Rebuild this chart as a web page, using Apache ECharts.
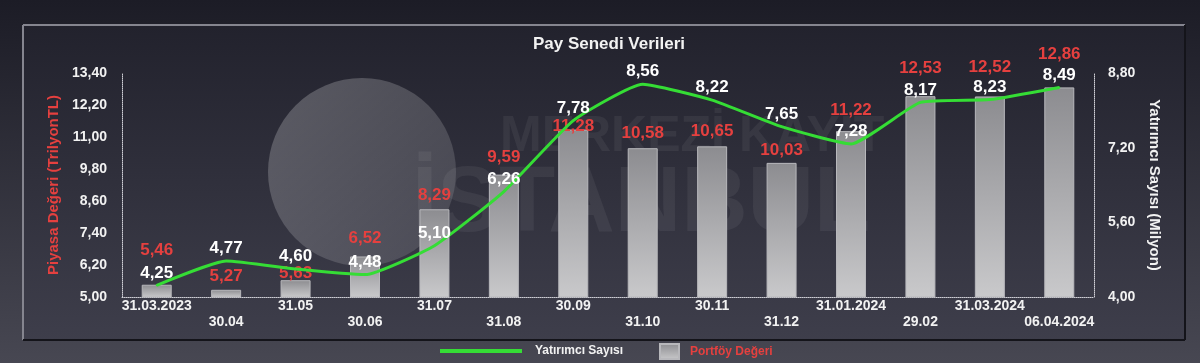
<!DOCTYPE html>
<html>
<head>
<meta charset="utf-8">
<script src="https://cdn.jsdelivr.net/npm/echarts@6/dist/echarts.min.js"></script>
<style>
html,body{margin:0;padding:0;background:#2a2a35;}
#chart{width:1200px;height:363px;}
</style>
</head>
<body>
<div id="chart"></div>
<script>
// ---- data ----
const categories = ['31.03.2023','30.04','31.05','30.06','31.07','31.08','30.09','31.10','30.11','31.12','31.01.2024','29.02','31.03.2024','06.04.2024'];
const portfoyDegeri = [5.46, 5.27, 5.63, 6.52, 8.29, 9.59, 11.28, 10.58, 10.65, 10.03, 11.22, 12.53, 12.52, 12.86];
const yatirimciSayisi = [4.25, 4.77, 4.60, 4.48, 5.10, 6.26, 7.78, 8.56, 8.22, 7.65, 7.28, 8.17, 8.23, 8.49];
const leftTicks = { min: 5.0, max: 13.4, step: 1.2 };
const rightTicks = { min: 4.0, max: 8.8, step: 1.6 };
const titleText = 'Pay Senedi Verileri';
const leftAxisName = 'Piyasa Değeri (TrilyonTL)';
const rightAxisName = 'Yatırımcı Sayısı (Milyon)';
const lineName = 'Yatırımcı Sayısı';
const barName = 'Portföy Değeri';

// label vertical shifts (style only)
const redLabelShift = [-21, 0, 7, -4.5, 0, -3.5, 10, -1, -1.5, 0.5, -7, -14, -16, -20];

const RED = '#e5403f';
const GREEN = '#35dd35';
const fmt = v => Number(v).toFixed(2).replace('.', ',');
const FONT = '"Liberation Sans", Arial, sans-serif';

const chart = echarts.init(document.getElementById('chart'), null, { renderer: 'canvas' });

const option = {
  backgroundColor: {
    type: 'linear', x: 0, y: 0, x2: 0, y2: 1,
    colorStops: [{ offset: 0, color: '#1c1c26' }, { offset: 1, color: '#474752' }]
  },
  textStyle: { fontFamily: FONT },
  graphic: [
    { type: 'rect', z: -10, silent: true, shape: { x: 23, y: 25, width: 1162, height: 315 },
      style: { fill: { type: 'linear', x: 0, y: 0, x2: 0, y2: 1,
        colorStops: [{ offset: 0, color: '#22222d' }, { offset: 1, color: '#3e3e4b' }] } } },
    { type: 'line', z: -9, silent: true, shape: { x1: 23, y1: 25, x2: 1185, y2: 25 }, style: { stroke: '#85858f', lineWidth: 2 } },
    { type: 'line', z: -9, silent: true, shape: { x1: 23, y1: 25, x2: 23, y2: 340 }, style: { stroke: '#85858f', lineWidth: 2 } },
    { type: 'line', z: -9, silent: true, shape: { x1: 23, y1: 340, x2: 1185, y2: 340 }, style: { stroke: '#14141a', lineWidth: 2 } },
    { type: 'line', z: -9, silent: true, shape: { x1: 1185, y1: 25, x2: 1185, y2: 340 }, style: { stroke: '#14141a', lineWidth: 2 } },
    { type: 'circle', z: -8, silent: true, shape: { cx: 362, cy: 172, r: 94 },
      style: { fill: { type: 'linear', x: 0, y: 0, x2: 1, y2: 1,
        colorStops: [{ offset: 0, color: 'rgba(255,255,255,0.24)' }, { offset: 1, color: 'rgba(255,255,255,0.10)' }] } } },
    { type: 'text', z: -8, silent: true, left: 500, top: 112,
      style: { text: 'MERKEZİ KAYIT', font: 'bold 50px ' + FONT, fill: 'rgba(255,255,255,0.06)' } },
    { type: 'text', z: -8, silent: true, left: 412, top: 160,
      style: { text: 'İSTANBUL', font: 'bold 92px ' + FONT, fill: 'rgba(255,255,255,0.06)' } }
  ],
  title: {
    text: titleText, left: 604, textAlign: 'center', top: 31,
    textStyle: { color: '#f2f2f2', fontSize: 17, fontWeight: 'bold', fontFamily: FONT }
  },
  legend: [
    { data: [{ name: lineName, icon: 'rect', itemStyle: { color: GREEN, opacity: 1 } }], left: 435, top: 340, itemWidth: 82, itemHeight: 4,
      textStyle: { color: '#f2f2f2', fontSize: 12, fontWeight: 'bold', fontFamily: FONT, padding: [0, 0, 0, 8] } },
    { data: [{ name: barName, icon: 'rect' }], left: 654, top: 338, itemWidth: 19, itemHeight: 15,
      textStyle: { color: RED, fontSize: 12, fontWeight: 'bold', fontFamily: FONT, padding: [0, 0, 0, 6] } }
  ],
  grid: { left: 122, right: 106, top: 73, bottom: 66 },
  xAxis: {
    type: 'category', data: categories, boundaryGap: true,
    axisLine: { show: true, lineStyle: { color: '#cfcfd6', type: 'dotted', width: 1 } },
    axisTick: { show: false },
    axisLabel: {
      interval: 0, margin: 1, color: '#f2f2f2', fontSize: 14, fontWeight: 'bold', fontFamily: FONT,
      lineHeight: 16,
      formatter: (v, i) => (i % 2 === 1 ? '\n' + v : v)
    },
    splitLine: { show: false }
  },
  yAxis: [
    {
      type: 'value', position: 'left', min: leftTicks.min, max: leftTicks.max, interval: leftTicks.step,
      name: leftAxisName, nameLocation: 'middle', nameGap: 60, nameRotate: 90,
      nameTextStyle: { color: RED, fontSize: 15, fontWeight: 'bold', fontFamily: FONT },
      axisLine: { show: true, lineStyle: { color: '#cfcfd6', type: 'dotted', width: 1 } },
      axisTick: { show: false },
      axisLabel: { margin: 15, color: '#f2f2f2', fontSize: 14, fontWeight: 'bold', fontFamily: FONT, formatter: fmt },
      splitLine: { show: false }
    },
    {
      type: 'value', position: 'right', min: rightTicks.min, max: rightTicks.max, interval: rightTicks.step,
      name: rightAxisName, nameLocation: 'middle', nameGap: 46, nameRotate: -90,
      nameTextStyle: { color: '#f2f2f2', fontSize: 15, fontWeight: 'bold', fontFamily: FONT },
      axisLine: { show: true, lineStyle: { color: '#cfcfd6', type: 'dotted', width: 1 } },
      axisTick: { show: false },
      axisLabel: { margin: 14, color: '#f2f2f2', fontSize: 14, fontWeight: 'bold', fontFamily: FONT, formatter: fmt },
      splitLine: { show: false }
    }
  ],
  series: [
    {
      name: barName, type: 'bar', yAxisIndex: 0, barWidth: 30,
      data: portfoyDegeri.map((v, i) => ({ value: v, label: { offset: [0, redLabelShift[i]] } })),
      itemStyle: {
        color: { type: 'linear', x: 0, y: 0, x2: 0, y2: 1,
          colorStops: [{ offset: 0, color: '#8c8c90' }, { offset: 1, color: '#c9c9cb' }] },
        borderColor: '#b8b8bc', borderWidth: 1
      },
      label: {
        show: true, position: 'top', distance: 5, color: RED, fontSize: 17, fontWeight: 'bold', fontFamily: FONT,
        formatter: p => fmt(p.value)
      },
      z: 2
    },
    {
      name: lineName, type: 'line', yAxisIndex: 1, data: yatirimciSayisi,
      smooth: 0.15, showSymbol: true, symbol: 'circle', symbolSize: 2,
      lineStyle: { color: GREEN, width: 3 },
      itemStyle: { color: GREEN },
      label: {
        show: true, position: 'top', distance: 3, color: '#ffffff', fontSize: 17, fontWeight: 'bold', fontFamily: FONT,
        formatter: p => fmt(p.value)
      },
      z: 3
    }
  ]
};
chart.setOption(option);
</script>
</body>
</html>
